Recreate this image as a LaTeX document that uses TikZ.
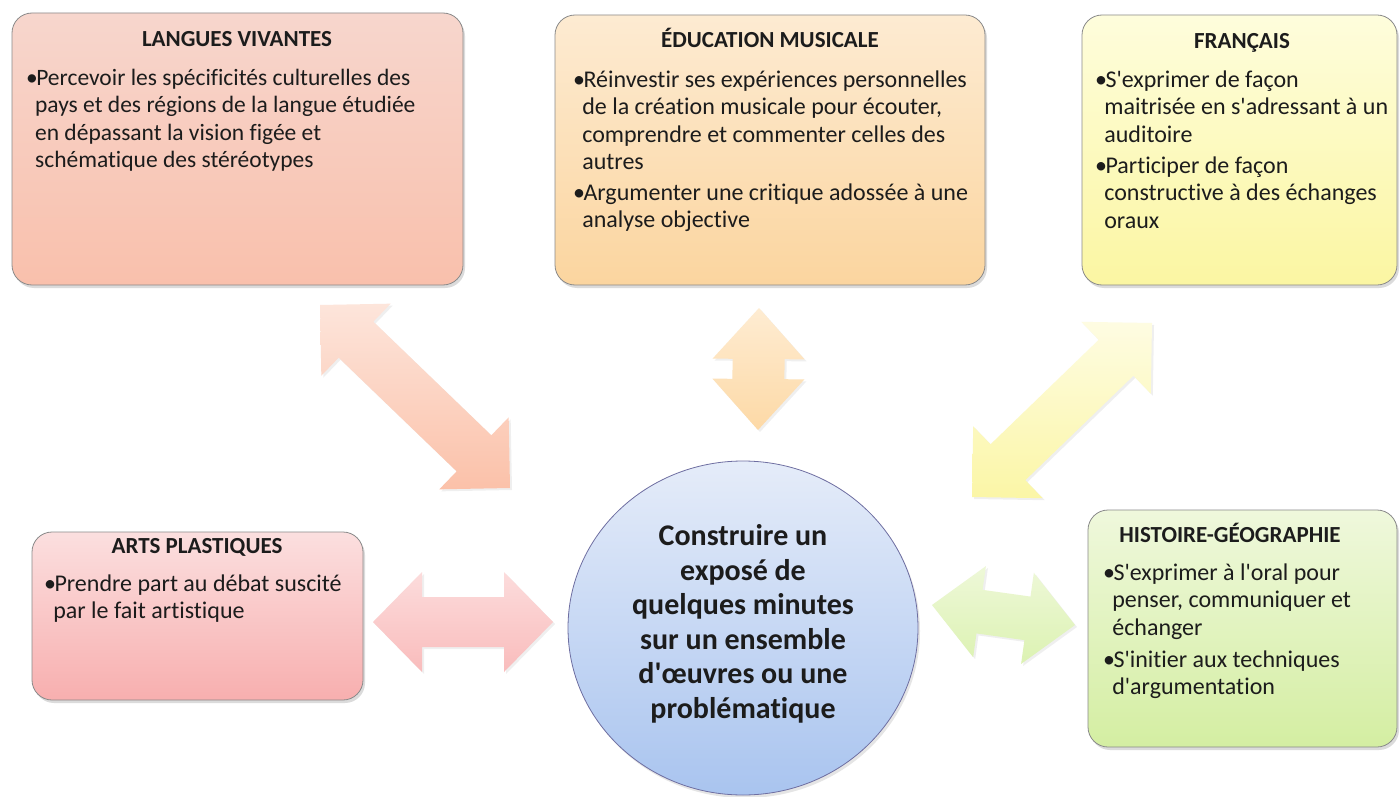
\documentclass[tikz,border=0pt]{standalone}
\usepackage{fontspec}
\setmainfont{Carlito}[Ligatures={NoCommon}]
\usetikzlibrary{calc,shapes.geometric,shadows}

\definecolor{lvtop}{HTML}{F7D6CD}
\definecolor{lvbot}{HTML}{F9C0AC}
\definecolor{emtop}{HTML}{FDEBD2}
\definecolor{embot}{HTML}{FBD59F}
\definecolor{frtop}{HTML}{FEFDDC}
\definecolor{frbot}{HTML}{FBF6A2}
\definecolor{aptop}{HTML}{FBDFDF}
\definecolor{apbot}{HTML}{F8AFAF}
\definecolor{hgtop}{HTML}{EFF8DC}
\definecolor{hgbot}{HTML}{D4EEA2}
\definecolor{cctop}{HTML}{E5ECF9}
\definecolor{ccbot}{HTML}{A9C4EF}
\definecolor{bordergray}{HTML}{8A8A8A}
\definecolor{txt}{HTML}{1C1C1C}
\definecolor{aonetop}{HTML}{FDE5DB}
\definecolor{aonebot}{HTML}{FBC1A9}
\definecolor{atwotop}{HTML}{FEECD2}
\definecolor{atwobot}{HTML}{FDD9A6}
\definecolor{athreetop}{HTML}{FEFCE2}
\definecolor{athreebot}{HTML}{FBF6A6}
\definecolor{afourtop}{HTML}{FCDCDC}
\definecolor{afourbot}{HTML}{F9BCBC}
\definecolor{afivetop}{HTML}{EEF8D8}
\definecolor{afivebot}{HTML}{DCF2B2}

\newcommand{\bul}{\makebox[0.43em][l]{•}}
\newcommand{\hang}{\hspace*{0.38em}}
\newcommand{\ap}{\textquotesingle}

% double block arrow between two named coordinates
% #1 A, #2 B, #3 head length, #4 head half width, #5 shaft half width, #6 style
\newcommand{\dblarr}[6]{%
  \coordinate (#1-p) at ($(#1)!#3!(#2)$);
  \coordinate (#1-q) at ($(#2)!#3!(#1)$);
  \path[#6] (#1)
    -- ($(#1-p)!#4!90:(#2)$)
    -- ($(#1-p)!#5!90:(#2)$)
    -- ($(#1-q)!#5!-90:(#1)$)
    -- ($(#1-q)!#4!-90:(#1)$)
    -- (#2)
    -- ($(#1-q)!#4!90:(#1)$)
    -- ($(#1-q)!#5!90:(#1)$)
    -- ($(#1-p)!#5!-90:(#2)$)
    -- ($(#1-p)!#4!-90:(#2)$)
    -- cycle;
}

\tikzset{
  box/.style={draw=bordergray, line width=0.8pt, rounded corners=20pt,
    inner sep=0pt, outer sep=0pt,
    drop shadow={opacity=0.28, shadow xshift=2pt, shadow yshift=-3pt}},
  ttl/.style={font=\bfseries\fontsize{23}{27.5}\selectfont, text=txt,
    anchor=base, inner sep=0pt},
  body/.style={font=\fontsize{#1}{27.5}\selectfont, text=txt, align=left,
    anchor=north west, inner sep=0pt},
  body/.default=24,
  blockarrow/.style 2 args={top color=#1, bottom color=#2, draw=none,
    drop shadow={opacity=0.12, shadow xshift=2pt, shadow yshift=-2pt}},
}

\begin{document}
\begin{tikzpicture}[x=1pt,y=-1pt]
\useasboundingbox (0,0) rectangle (1400,797);
\fill[white] (0,0) rectangle (1400,797);

% ---------- arrows ----------
\coordinate (a1s) at (320,305);  \coordinate (a1e) at (510,488);
\coordinate (a2s) at (759,308);  \coordinate (a2e) at (758,430);
\coordinate (a3s) at (972,497);  \coordinate (a3e) at (1152,323);
\coordinate (a4s) at (373,622);  \coordinate (a4e) at (553,622);
\coordinate (a5s) at (932,605);  \coordinate (a5e) at (1075,625);

\dblarr{a1s}{a1e}{50pt}{50pt}{25pt}{blockarrow={aonetop}{aonebot}}
\dblarr{a2s}{a2e}{51pt}{46pt}{26pt}{blockarrow={atwotop}{atwobot}}
\dblarr{a3s}{a3e}{50pt}{50pt}{25pt}{blockarrow={athreetop}{athreebot}}
\dblarr{a4s}{a4e}{49pt}{50pt}{25pt}{blockarrow={afourtop}{afourbot}}
\dblarr{a5s}{a5e}{48pt}{46pt}{22pt}{blockarrow={afivetop}{afivebot}}

% ---------- boxes ----------
\node[box, top color=lvtop, bottom color=lvbot,
  minimum width=451pt, minimum height=272pt] (lv) at (237.5,149) {};
\node[box, top color=emtop, bottom color=embot,
  minimum width=430pt, minimum height=270pt] (em) at (770,150) {};
\node[box, top color=frtop, bottom color=frbot,
  minimum width=315pt, minimum height=270pt] (fr) at (1239.5,150) {};
\node[box, top color=aptop, bottom color=apbot,
  minimum width=331pt, minimum height=168pt] (ap) at (197.5,616) {};
\node[box, top color=hgtop, bottom color=hgbot,
  minimum width=309pt, minimum height=237pt] (hg) at (1242.5,628.5) {};

% ---------- centre ----------
\node[ellipse, draw=bordergray!80!blue, line width=0.8pt, top color=cctop,
  bottom color=ccbot, minimum width=350pt, minimum height=334pt,
  drop shadow={opacity=0.2, shadow xshift=2pt, shadow yshift=-3pt}]
  (cc) at (743,628) {};
\node[font=\bfseries\fontsize{30}{34.5}\selectfont, text=txt, align=center,
  inner sep=0pt] (cct) at (743,624)
  {Construire un\\ exposé de\\ quelques minutes\\ sur un ensemble\\
   d\ap œuvres ou une\\ problématique};

% ---------- titles ----------
\node[ttl] (lvt) at (237,47) {LANGUES VIVANTES};
\node[ttl] (emt) at (770,48) {ÉDUCATION MUSICALE};
\node[ttl] (frt) at (1242,49) {FRANÇAIS};
\node[ttl] (apt) at (197,553) {ARTS PLASTIQUES};
\node[ttl] (hgt) at (1230,542) {HISTOIRE-GÉOGRAPHIE};

% ---------- texts ----------
\node[body=23.5] (lvb) at (26,65.75)
  {\strut\bul Percevoir les spécificités culturelles des\\
   \strut\hang pays et des régions de la langue étudiée\\
   \strut\hang en dépassant la vision figée et\\
   \strut\hang schématique des stéréotypes};
\node[body=24] (emb) at (573,67.75)
  {\strut\bul Réinvestir ses expériences personnelles\\
   \strut\hang de la création musicale pour écouter,\\
   \strut\hang comprendre et commenter celles des\\
   \strut\hang autres\\[3pt]
   \strut\bul Argumenter une critique adossée à une\\
   \strut\hang analyse objective};
\node[body=24] (frb) at (1095,67.75)
  {\strut\bul S\ap exprimer de façon\\
   \strut\hang maitrisée en s\ap adressant à un\\
   \strut\hang auditoire\\[3.5pt]
   \strut\bul Participer de façon\\
   \strut\hang constructive à des échanges\\
   \strut\hang oraux};
\node[body=24] (apb) at (44,571.75)
  {\strut\bul Prendre part au débat suscité\\
   \strut\hang par le fait artistique};
\node[body=24] (hgb) at (1103,560.75)
  {\strut\bul S\ap exprimer à l\ap oral pour\\
   \strut\hang penser, communiquer et\\
   \strut\hang échanger\\[4.5pt]
   \strut\bul S\ap initier aux techniques\\
   \strut\hang d\ap argumentation};
\end{tikzpicture}
\end{document}
